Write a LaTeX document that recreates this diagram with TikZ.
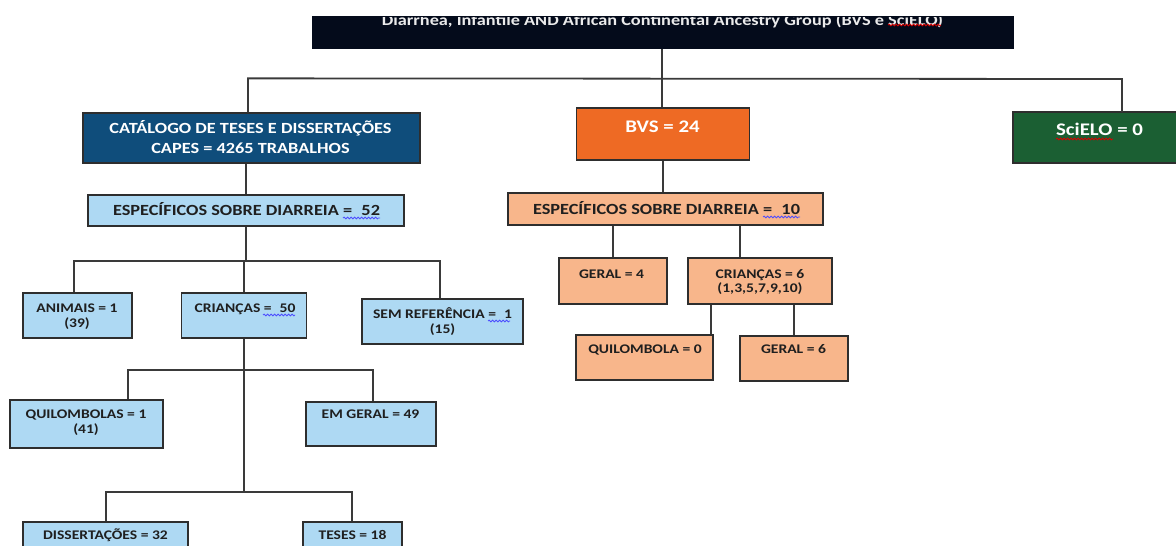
\documentclass[tikz,border=0pt]{standalone}
\usepackage{fontspec}
\setmainfont{Carlito}[FakeStretch=1.18]
\usetikzlibrary{decorations.pathmorphing}
\definecolor{topc}{HTML}{040B1B}
\definecolor{capesc}{HTML}{0F4D7B}
\definecolor{lb}{HTML}{AED9F3}
\definecolor{orc}{HTML}{EE6A24}
\definecolor{lo}{HTML}{F8B68B}
\definecolor{grc}{HTML}{1B5F33}
\definecolor{linec}{HTML}{3A3A3A}
\definecolor{bordc}{HTML}{2E2E2E}
\tikzset{
  bx/.style={draw=bordc, line width=1.3pt, rectangle, inner sep=0pt},
  conn/.style={draw=linec, line width=1.8pt},
  lab/.style={font=\bfseries\fontsize{13.2}{15.5}\selectfont, text=black!88, align=center, inner sep=0pt, anchor=base},
  biglab/.style={lab, font=\bfseries\fontsize{15.5}{20}\selectfont},
  wlab/.style={biglab, text=white},
  hugelab/.style={wlab, font=\bfseries\fontsize{17.7}{20}\selectfont},
  wavyb/.style={draw=blue!70!white, line width=0.8pt, decorate, decoration={snake, amplitude=0.9pt, segment length=3.5pt}},
  wavyr/.style={draw=red!85!black, line width=0.8pt, decorate, decoration={snake, amplitude=0.9pt, segment length=3.5pt}}
}
\begin{document}
\begin{tikzpicture}[x=1pt,y=-1pt]
\useasboundingbox (0,0) rectangle (1176,546);
\begin{scope}
\clip (0,0) rectangle (1176,546);
% top box
\node[bx, draw=topc, fill=topc, minimum width=700pt, minimum height=31pt] (top) at (663,32.5) {};
\begin{scope}
\clip (313,17) rectangle (1013,48);
\node[biglab, text=white!92!black] (toptxt) at (662.5,25) {Diarrhea, Infantile AND African Continental Ancestry Group (BVS e SciELO)};
\end{scope}
\draw[wavyr] (888,25) -- (941,25);
% level 1
\node[bx, fill=capesc, minimum width=337pt, minimum height=50pt] (capes) at (251.5,138) {};
\node[wlab] (capest) at (250.5,133) {CATÁLOGO DE TESES E DISSERTAÇÕES};
\node[wlab] (capest2) at (250.5,153) {CAPES = 4265 TRABALHOS};
\node[bx, fill=orc, minimum width=173pt, minimum height=52pt] (bvs) at (663,134) {};
\node[hugelab] (bvst) at (662.5,132) {BVS = 24};
\node[bx, fill=grc, minimum width=180pt, minimum height=51pt] (sci) at (1103,137.5) {};
\node[hugelab] (scit) at (1099.5,135) {SciELO = 0};
\draw[wavyr] (1056,139) -- (1113,139);
% bus
\coordinate (bus) at (662,79);
\draw[conn] (top.south -| bus) -- (bus);
\draw[conn] ([xshift=-3.5pt]capes.north) -- ++(0,-34) -- (1122,79) -- (1122,112);
\draw[conn] (bus) -- (bvs.north -| bus);
% left branch
\node[bx, fill=lb, minimum width=316pt, minimum height=31pt] (esp52) at (246,210.5) {};
\node[biglab] (esp52t) at (246.5,215) {ESPECÍFICOS SOBRE DIARREIA =\,\, 52};
\draw[wavyb] (343,218) -- (380,218);
\draw[conn] (capes.south -| esp52.north) -- (esp52.north);
\node[bx, fill=lb, minimum width=109pt, minimum height=45pt] (anim) at (77.5,315.5) {};
\node[lab] (animt) at (77,312) {ANIMAIS = 1};
\node[lab] (animt2) at (77,327) {(39)};
\node[bx, fill=lb, minimum width=125pt, minimum height=45pt] (cr50) at (244,315.5) {};
\node[lab] (cr50t) at (245,312) {CRIANÇAS =\,\, 50};
\draw[wavyb] (263,315) -- (295,315);
\node[bx, fill=lb, minimum width=161pt, minimum height=45pt] (semref) at (442.5,321.5) {};
\node[lab] (semreft) at (442.5,318) {SEM REFERÊNCIA =\,\, 1};
\node[lab] (semreft2) at (442.5,333) {(15)};
\draw[wavyb] (488,321) -- (510,321);
\draw[conn] (esp52.south) -- (esp52.south |- 0,261);
\draw[conn] (anim.north -| 74,0) -- (74,261) -- (440,261) -- (semref.north -| 440,0);
\draw[conn] (cr50.north) -- (cr50.north |- 0,261);
\node[bx, fill=lb, minimum width=153pt, minimum height=48pt] (quil) at (86.5,424) {};
\node[lab] (quilt) at (86,418) {QUILOMBOLAS = 1};
\node[lab] (quilt2) at (86,433) {(41)};
\node[bx, fill=lb, minimum width=130pt, minimum height=44pt] (emg) at (371,424) {};
\node[lab] (emgt) at (370.5,418.5) {EM GERAL = 49};
\draw[conn] (cr50.south) -- (cr50.south |- 0,492);
\draw[conn] (quil.north -| 128,0) -- (128,370) -- (373,370) -- (emg.north -| 373,0);
\node[bx, fill=lb, minimum width=165pt, minimum height=40pt] (diss) at (105.5,542) {};
\node[lab] (disst) at (105.5,539) {DISSERTAÇÕES = 32};
\node[bx, fill=lb, minimum width=99pt, minimum height=40pt] (tes) at (352.5,542) {};
\node[lab] (test) at (352.5,539) {TESES = 18};
\draw[conn] (diss.north -| 106,0) -- (106,492) -- (352,492) -- (tes.north -| 352,0);
% middle branch
\node[bx, fill=lo, minimum width=315pt, minimum height=32pt] (esp10) at (665.5,209) {};
\node[biglab] (esp10t) at (666.5,214) {ESPECÍFICOS SOBRE DIARREIA =\,\, 10};
\draw[wavyb] (763,217) -- (800,217);
\draw[conn] (bvs.south) -- (bvs.south |- esp10.north);
\node[bx, fill=lo, minimum width=108pt, minimum height=46pt] (ger4) at (613,281) {};
\node[lab] (ger4t) at (611.5,278) {GERAL = 4};
\node[bx, fill=lo, minimum width=144pt, minimum height=46pt] (cr6) at (760,281) {};
\node[lab] (cr6t) at (760,278) {CRIANÇAS = 6};
\node[lab] (cr6t2) at (760,292) {(1,3,5,7,9,10)};
\draw[conn] (esp10.south -| ger4.north) -- (ger4.north);
\draw[conn] (esp10.south -| 740,0) -- (cr6.north -| 740,0);
\node[bx, fill=lo, minimum width=137pt, minimum height=45pt] (quil0) at (644.5,357.5) {};
\node[lab] (quil0t) at (645,353) {QUILOMBOLA = 0};
\node[bx, fill=lo, minimum width=108pt, minimum height=45pt] (ger6) at (794,358.5) {};
\node[lab] (ger6t) at (793.5,353) {GERAL = 6};
\draw[conn] (cr6.south -| 711,0) -- (quil0.north -| 711,0);
\draw[conn] (cr6.south -| ger6.north) -- (ger6.north);
\end{scope}
\end{tikzpicture}
\end{document}
